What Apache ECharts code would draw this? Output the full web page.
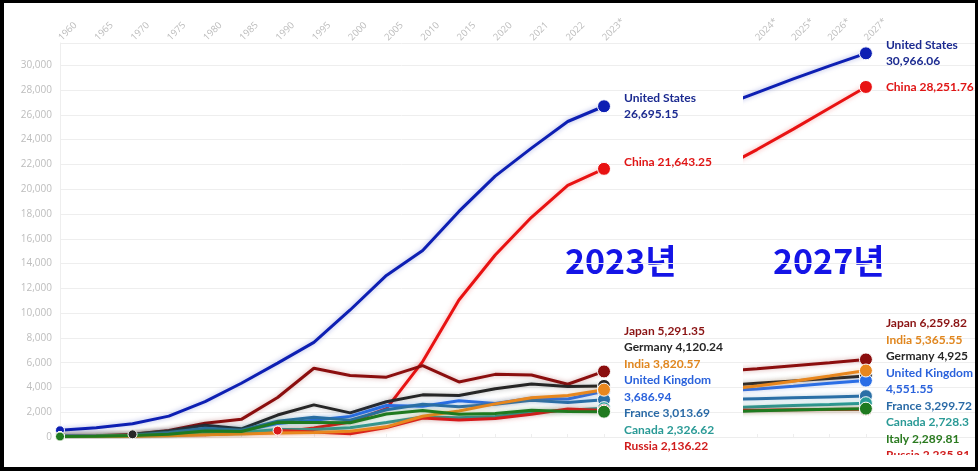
<!DOCTYPE html>
<html><head><meta charset="utf-8">
<script src="https://cdn.jsdelivr.net/npm/echarts@6/dist/echarts.min.js"></script>
<style>
html,body{margin:0;padding:0;background:#fff;}
#wrap{position:relative;width:978px;height:471px;overflow:hidden;background:#fff;}
#clip{position:absolute;left:0;top:0;width:978px;height:455px;overflow:hidden;}
#left{position:absolute;left:0;top:0;width:743px;height:471px;}
#right{position:absolute;left:743px;top:0;width:235px;height:471px;}
#frame{position:absolute;left:0;top:0;width:978px;height:471px;box-sizing:border-box;border-style:solid;border-color:#000;border-width:3px 3px 4px 4px;pointer-events:none;}
</style></head><body>
<div id="wrap"><div id="clip"><div id="left"></div><div id="right"></div></div><div id="frame"></div></div>
<script>
// ---- data: 1960 – 2023 ----
const yearsL = ['1960','1965','1970','1975','1980','1985','1990','1995','2000','2005','2010','2015','2020','2021','2022','2023*'];
const usL      = [543, 743, 1073, 1685, 2857, 4339, 5963, 7640, 10252, 13039, 15049, 18206, 21060, 23315, 25464, 26695.15];
const chinaL   = [59, 70, 92, 163, 191, 309, 361, 734, 1211, 2286, 6087, 11062, 14688, 17734, 20300, 21643.25];
const japanL   = [44, 91, 213, 521, 1105, 1425, 3185, 5546, 4968, 4831, 5759, 4445, 5055, 5006, 4256, 5291.35];
const germanyL = [null, null, 216, 489, 950, 661, 1772, 2595, 1948, 2846, 3400, 3357, 3889, 4278, 4082, 4120.24];
const ukL      = [73, 101, 131, 241, 604, 489, 1093, 1345, 1665, 2543, 2485, 2933, 2704, 3123, 3071, 3686.94];
const franceL  = [62, 102, 149, 362, 701, 553, 1269, 1596, 1362, 2204, 2645, 2439, 2639, 2958, 2780, 3013.69];
const canadaL  = [41, 56, 88, 174, 274, 365, 596, 605, 745, 1174, 1617, 1556, 1655, 2007, 2162, 2326.62];
const russiaL  = [null, null, null, null, null, null, 517, 396, 260, 764, 1525, 1363, 1493, 1837, 2266, 2136.22];
const indiaL   = [37, 59, 62, 99, 186, 235, 321, 360, 468, 820, 1675, 2104, 2675, 3167, 3353, 3820.57];
const italyL   = [40, 67, 113, 228, 478, 448, 1181, 1174, 1146, 1858, 2136, 1836, 1897, 2155, 2050, 2040];

// ---- data: 2023 – 2027 (projection) ----
const yearsR = [2023, 2024, 2025, 2026, 2027];
const yearTicksR = [2024, 2025, 2026, 2027];
const usR      = [26695.15, 27800, 28900, 29950, 30966.06];
const chinaR   = [21643.25, 23200, 24850, 26550, 28251.76];
const japanR   = [5291.35, 5500, 5750, 6000, 6259.82];
const germanyR = [4120.24, 4330, 4530, 4730, 4925];
const ukR      = [3686.94, 3880, 4100, 4330, 4551.55];
const franceR  = [3013.69, 3090, 3160, 3230, 3299.72];
const canadaR  = [2326.62, 2440, 2540, 2630, 2728.3];
const russiaR  = [2136.22, 2160, 2190, 2210, 2235.81];
const indiaR   = [3820.57, 4110, 4500, 4930, 5365.55];
const italyR   = [2040, 2110, 2170, 2230, 2289.81];

const yTicks = { min: 0, max: 31800, interval: 2000 };

// styles (cluster: label is part of the crowded group at the bottom)
const countries = [
  { name: 'United States', color: '#0d1fb3', label: '#1b2a90', left: usL, right: usR },
  { name: 'China', color: '#e81212', label: '#e01515', left: chinaL, right: chinaR },
  { name: 'Japan', color: '#8b0e0e', label: '#8b1414', left: japanL, right: japanR, cluster: true },
  { name: 'Germany', color: '#262626', label: '#262626', left: germanyL, right: germanyR, cluster: true },
  { name: 'United Kingdom', color: '#2a6ee6', label: '#2a62dc', left: ukL, right: ukR, cluster: true, dy: 8 },
  { name: 'France', color: '#2a6fa6', label: '#2a6aa6', left: franceL, right: franceR, cluster: true },
  { name: 'Canada', color: '#2a9c98', label: '#2a9a96', left: canadaL, right: canadaR, cluster: true },
  { name: 'Russia', color: '#d8191c', label: '#d01c1c', left: russiaL, right: russiaR, cluster: true },
  { name: 'India', color: '#e8871e', label: '#e0861e', left: indiaL, right: indiaR, cluster: true },
  { name: 'Italy', color: '#1f7a1f', label: '#2a7a1f', left: italyL, right: italyR, cluster: true }
];

const LABEL_FONT = 'Lato';
function fmt(v) { return Number(v).toLocaleString('en-US', { maximumFractionDigits: 2 }); }
function rgba(hex, a) {
  const n = parseInt(hex.slice(1), 16);
  return 'rgba(' + (n >> 16 & 255) + ',' + (n >> 8 & 255) + ',' + (n & 255) + ',' + a + ')';
}

function mkSeries(c, isRight) {
  const raw = isRight ? c.right : c.left;
  const n = raw.length;
  const first = raw.findIndex(v => v != null);
  const data = isRight ? raw.map((v, i) => [yearsR[i], v]) : raw;
  const dy = (c.dy || 0) + (isRight && c.cluster ? -36 : 0);
  return {
    name: c.name, type: 'line', data: data,
    xAxisIndex: isRight ? 0 : 1, yAxisIndex: isRight ? 0 : 1,
    symbol: 'circle', showAllSymbol: true,
    symbolSize: (val, p) => p.dataIndex === n - 1 ? 13 : (!isRight && p.dataIndex === first ? 9 : 0),
    itemStyle: { color: c.color, borderColor: '#fff', borderWidth: 1 },
    lineStyle: { color: c.color, width: 3, shadowColor: rgba(c.color, 0.35), shadowBlur: 5 },
    endLabel: {
      show: true,
      formatter: p => {
        const v = fmt(isRight ? p.value[1] : p.value);
        return p.seriesName.indexOf(' ') > 0 ? p.seriesName + '\n' + v : p.seriesName + ' ' + v;
      },
      color: c.label, fontFamily: LABEL_FONT, fontWeight: 'bold', fontSize: 12,
      lineHeight: 16.5, distance: 20
    },
    labelLayout: { moveOverlap: 'shiftY', dy: dy },
    emphasis: { disabled: true },
    silent: true
  };
}

const axisLabelGray = '#bdbdbd';

const left = echarts.init(document.getElementById('left'), null, { renderer: 'canvas' });
left.setOption({
  animation: false,
  grid: [
    { left: 60, right: 0, top: 43, bottom: 34 },
    { left: 60, width: 544, top: 43, bottom: 34 }
  ],
  xAxis: [
    { gridIndex: 0, type: 'value', position: 'top', min: 0, max: 1,
      axisLabel: { show: false }, axisTick: { show: false }, splitLine: { show: false },
      axisLine: { show: true, lineStyle: { color: '#ededed' } } },
    { gridIndex: 1, type: 'category', data: yearsL, position: 'top', boundaryGap: false,
      axisLine: { show: false }, axisTick: { show: true, length: 3, lineStyle: { color: '#eee' } },
      axisLabel: { rotate: 45, color: axisLabelGray, fontSize: 9.5, margin: 4, interval: 0, fontFamily: 'Open Sans' },
      splitLine: { show: false } }
  ],
  yAxis: [
    { gridIndex: 0, type: 'value', min: yTicks.min, max: yTicks.max, interval: yTicks.interval,
      axisLabel: { color: axisLabelGray, fontSize: 10, margin: 8, showMaxLabel: false, fontFamily: 'Open Sans', formatter: v => fmt(v) },
      splitLine: { lineStyle: { color: '#eeeeee' } },
      axisLine: { show: true, lineStyle: { color: '#eeeeee' } }, axisTick: { show: false } },
    { gridIndex: 1, type: 'value', min: yTicks.min, max: yTicks.max, interval: yTicks.interval, show: false }
  ],
  graphic: [
    { type: 'text', left: 565, top: 244, silent: true,
      style: { text: '2023년', font: 'bold 34px "Noto Sans CJK KR"', fill: '#1414e6' } }
  ],
  series: countries.map(c => mkSeries(c, false))
});

const right = echarts.init(document.getElementById('right'), null, { renderer: 'canvas' });
right.setOption({
  animation: false,
  grid: { left: 0, right: 0, top: 43, bottom: 34 },
  xAxis: {
    type: 'value', position: 'top', min: 2023.614, max: 2030.088,
    axisLabel: { customValues: yearTicksR, formatter: v => v + '*', rotate: 45, color: axisLabelGray, fontSize: 9.5, margin: 4, fontFamily: 'Open Sans' },
    axisTick: { customValues: yearTicksR, length: 3, lineStyle: { color: '#eee' } },
    splitLine: { show: false },
    axisLine: { show: true, lineStyle: { color: '#ededed' } }
  },
  yAxis: {
    type: 'value', min: yTicks.min, max: yTicks.max, interval: yTicks.interval,
    axisLabel: { show: false }, axisTick: { show: false }, axisLine: { show: false },
    splitLine: { lineStyle: { color: '#eeeeee' } }
  },
  graphic: [
    { type: 'text', left: 30, top: 244, silent: true,
      style: { text: '2027년', font: 'bold 34px "Noto Sans CJK KR"', fill: '#1414e6' } }
  ],
  series: countries.map(c => mkSeries(c, true))
});
</script>
</body></html>
